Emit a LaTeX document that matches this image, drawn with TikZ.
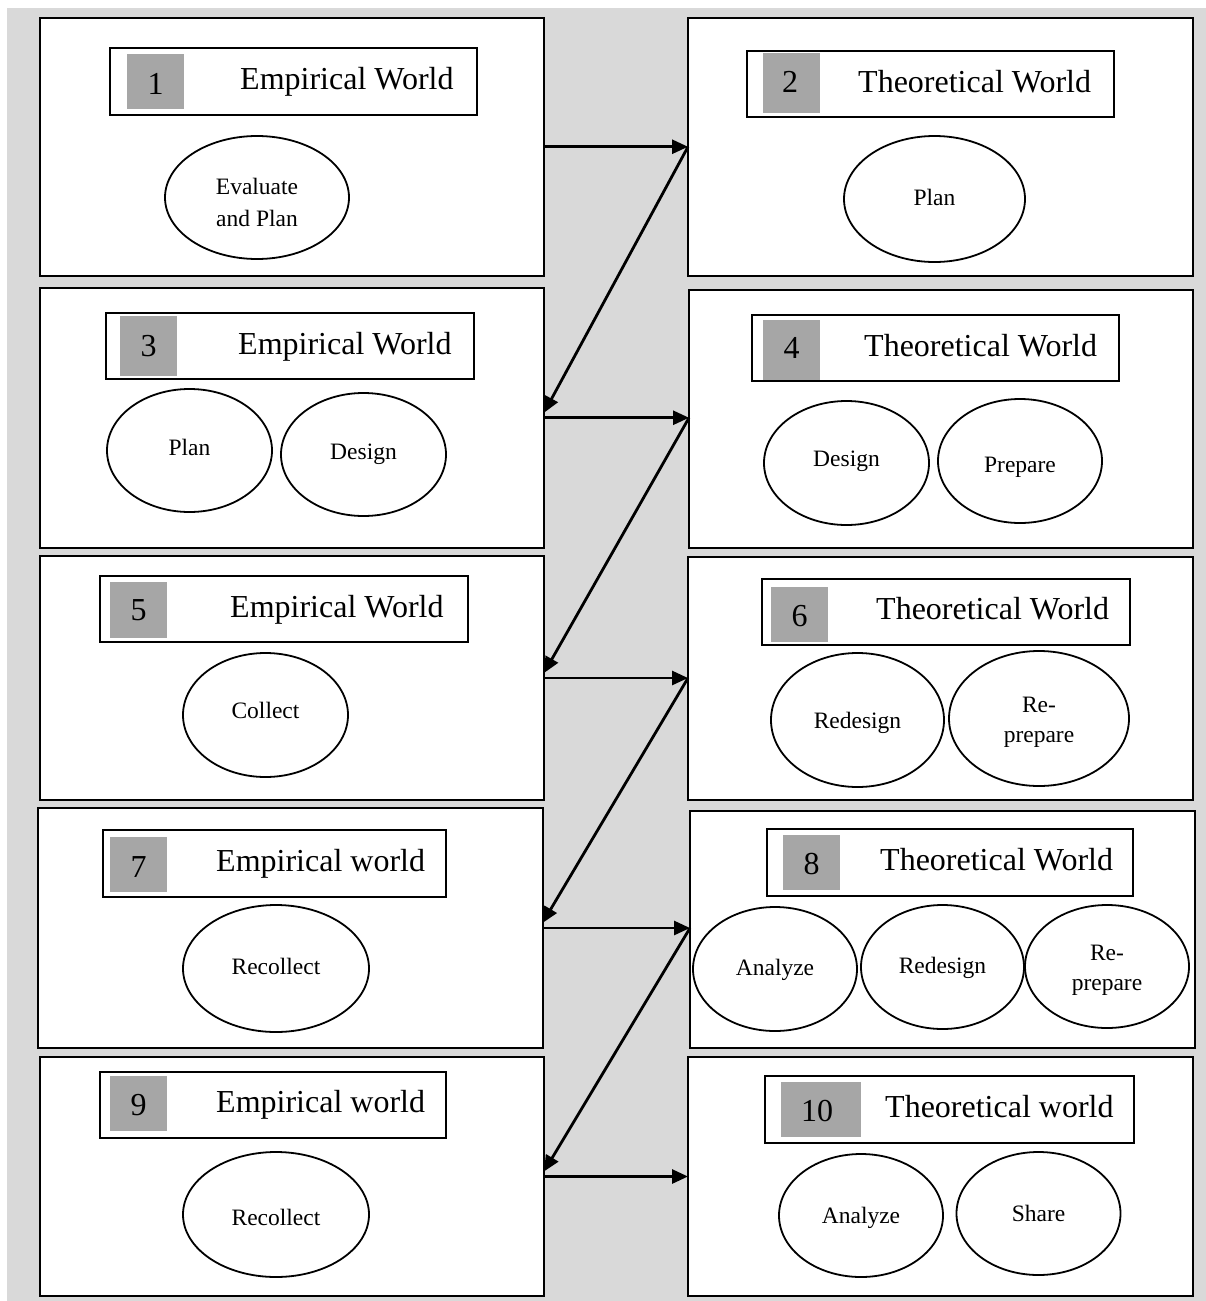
\documentclass[tikz,border=0pt]{standalone}
\usepackage{fontspec}
\setmainfont{Liberation Serif}
\usetikzlibrary{arrows.meta,fit,shapes.geometric}
\definecolor{panelgray}{HTML}{D9D9D9}
\definecolor{taggray}{HTML}{A6A6A6}

\begin{document}
\begin{tikzpicture}[x=1pt,y=-1pt,
  stage/.style={draw=black,line width=2pt,fill=white,inner sep=0pt,outer sep=0pt},
  titlebox/.style={draw=black,line width=2pt,fill=white,inner sep=0pt},
  tag/.style={fill=taggray,inner sep=0pt},
  tagnum/.style={anchor=base,font=\fontsize{32}{38}\selectfont,inner sep=0pt},
  titletext/.style={anchor=base west,font=\fontsize{32}{38}\selectfont,inner sep=0pt},
  act/.style={ellipse,draw=black,line width=1.8pt,fill=white,inner sep=0pt},
  acttext/.style={anchor=base,font=\fontsize{23.5}{31}\selectfont,inner sep=0pt},
  flow/.style={line width=2.8pt,-{Triangle[length=16pt,width=14pt]}}
]
\useasboundingbox (0,0) rectangle (1206,1301);
\fill[panelgray] (7,8) rectangle (1206,1301);

% stage panels: empirical (left) and theoretical (right)
\node[stage,fit={(39.5,17.5)(544,276)}] (b1) {};
\node[stage,fit={(688,17.5)(1192.5,276)}] (b2) {};
\node[stage,fit={(39.5,287.5)(544,548)}] (b3) {};
\node[stage,fit={(689,290)(1193,548)}] (b4) {};
\node[stage,fit={(39.5,556)(544,800)}] (b5) {};
\node[stage,fit={(688,557)(1192.5,800)}] (b6) {};
\node[stage,fit={(37.5,808)(542.5,1048)}] (b7) {};
\node[stage,fit={(690,810.5)(1194.5,1047.5)}] (b8) {};
\node[stage,fit={(39.5,1057)(544,1296)}] (b9) {};
\node[stage,fit={(688,1057)(1192.5,1296)}] (b10) {};

% title bars
\node[titlebox,fit={(110,48)(477,115)}] (t1) {};
\node[titlebox,fit={(747,51)(1114,117)}] (t2) {};
\node[titlebox,fit={(106,313)(474,379)}] (t3) {};
\node[titlebox,fit={(751.5,315)(1119,381)}] (t4) {};
\node[titlebox,fit={(100,576)(468,642)}] (t5) {};
\node[titlebox,fit={(762,579)(1129.5,645)}] (t6) {};
\node[titlebox,fit={(102.5,830)(446,897)}] (t7) {};
\node[titlebox,fit={(766.5,829)(1133,896)}] (t8) {};
\node[titlebox,fit={(100,1072)(446,1138)}] (t9) {};
\node[titlebox,fit={(765,1076)(1134,1143)}] (t10) {};

% step number tags
\node[tag,fit={(127,54)(184,109)}] (g1) {};
\node[tag,fit={(763,53)(820,113)}] (g2) {};
\node[tag,fit={(120,316)(177,376)}] (g3) {};
\node[tag,fit={(763,320)(820,380)}] (g4) {};
\node[tag,fit={(110,582)(167,638)}] (g5) {};
\node[tag,fit={(771,587)(828,642)}] (g6) {};
\node[tag,fit={(110,837)(167,892)}] (g7) {};
\node[tag,fit={(783,835)(840,890)}] (g8) {};
\node[tag,fit={(110,1076)(167,1131)}] (g9) {};
\node[tag,fit={(781,1082)(861,1137)}] (g10) {};

\node[tagnum] (n1) at (155.5,94) {1};
\node[tagnum] (n2) at (790,92) {2};
\node[tagnum] (n3) at (148.5,356) {3};
\node[tagnum] (n4) at (791.5,358) {4};
\node[tagnum] (n5) at (138.5,620) {5};
\node[tagnum] (n6) at (799.5,626) {6};
\node[tagnum] (n7) at (138.5,877) {7};
\node[tagnum] (n8) at (811.5,874) {8};
\node[tagnum] (n9) at (138.5,1115) {9};
\node[tagnum] (n10) at (817,1121) {10};

\node[titletext] (w1) at (240,89) {Empirical World};
\node[titletext] (w2) at (858,92) {Theoretical World};
\node[titletext] (w3) at (238,354) {Empirical World};
\node[titletext] (w4) at (864,356) {Theoretical World};
\node[titletext] (w5) at (230,617) {Empirical World};
\node[titletext] (w6) at (876,619) {Theoretical World};
\node[titletext] (w7) at (216,871) {Empirical world};
\node[titletext] (w8) at (880,870) {Theoretical World};
\node[titletext] (w9) at (216,1112) {Empirical world};
\node[titletext] (w10) at (885,1117) {Theoretical world};

% activities
\node[act,minimum width=184pt,minimum height=123pt] (e1) at (257,197.5) {};
\node[acttext] at (257,194) {Evaluate};
\node[acttext] at (257,226) {and Plan};

\node[act,minimum width=181pt,minimum height=126pt] (e2) at (934.5,199) {};
\node[acttext] at (934.5,205) {Plan};

\node[act,minimum width=165pt,minimum height=123pt] (e3a) at (189.5,450.5) {};
\node[acttext] at (189.5,455) {Plan};
\node[act,minimum width=165pt,minimum height=123pt] (e3b) at (363.5,454.5) {};
\node[acttext] at (363.5,459) {Design};

\node[act,minimum width=165pt,minimum height=124pt] (e4a) at (846.5,463) {};
\node[acttext] at (846.5,466.5) {Design};
\node[act,minimum width=164pt,minimum height=124pt] (e4b) at (1020,461) {};
\node[acttext] at (1020,472.5) {Prepare};

\node[act,minimum width=165pt,minimum height=124pt] (e5) at (265.5,715) {};
\node[acttext] at (265.5,718) {Collect};

\node[act,minimum width=173pt,minimum height=134pt] (e6a) at (857.5,720) {};
\node[acttext] at (857.5,728) {Redesign};
\node[act,minimum width=180pt,minimum height=135pt] (e6b) at (1039,718.5) {};
\node[acttext] at (1039,712) {Re-};
\node[acttext] at (1039,742) {prepare};

\node[act,minimum width=186pt,minimum height=127pt] (e7) at (276,968.5) {};
\node[acttext] at (276,974) {Recollect};

\node[act,minimum width=164pt,minimum height=124pt] (e8a) at (775,969) {};
\node[acttext] at (775,975) {Analyze};
\node[act,minimum width=163pt,minimum height=124pt] (e8b) at (942.5,967) {};
\node[acttext] at (942.5,973) {Redesign};
\node[act,minimum width=164pt,minimum height=123pt] (e8c) at (1107,966.5) {};
\node[acttext] at (1107,960) {Re-};
\node[acttext] at (1107,990) {prepare};

\node[act,minimum width=186pt,minimum height=125pt] (e9) at (276,1214.5) {};
\node[acttext] at (276,1225) {Recollect};

\node[act,minimum width=164pt,minimum height=123pt] (e10a) at (861,1215.5) {};
\node[acttext] at (861,1223) {Analyze};
\node[act,minimum width=164pt,minimum height=123pt] (e10b) at (1038.5,1213.5) {};
\node[acttext] at (1038.5,1221) {Share};

% zig-zag flow between the two worlds
\draw[flow] (b1.east) -- (b2.west |- b1.east) coordinate (m1);
\draw[flow] (m1) -- ([yshift=5pt]b3.east);
\draw[flow] (b3.east) -- (b4.west |- b3.east) coordinate (m2);
\draw[flow] (m2) -- ([yshift=5pt]b5.east);
\draw[flow] (b5.east) -- (b6.west |- b5.east) coordinate (m3);
\draw[flow] (m3) -- ([yshift=5pt]b7.east);
\draw[flow] (b7.east) -- (b8.west |- b7.east) coordinate (m4);
\draw[flow] (m4) -- ([yshift=5pt]b9.east);
\draw[flow] (b9.east) -- (b10.west |- b9.east);
\end{tikzpicture}
\end{document}
